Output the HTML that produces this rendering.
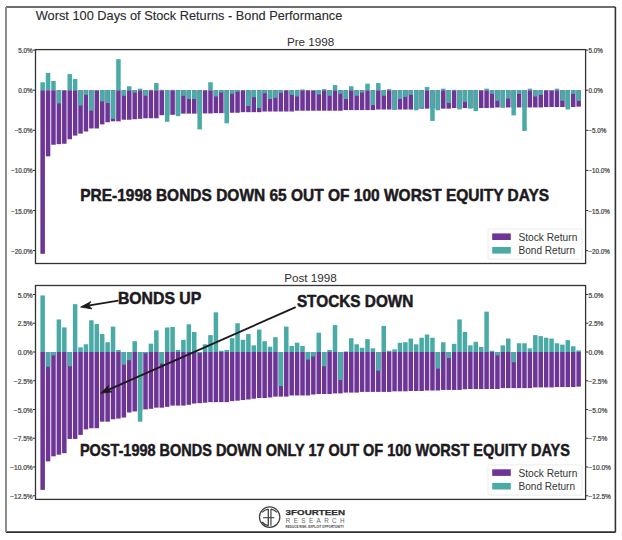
<!DOCTYPE html>
<html><head><meta charset="utf-8"><style>
html,body{margin:0;padding:0;background:#fff;}
body{width:622px;height:540px;overflow:hidden;}
svg{display:block;}
text{font-family:"Liberation Sans", sans-serif;}
.title{font-size:12.6px;fill:#2b2b2b;stroke:#2b2b2b;stroke-width:0.12px;}
.sub{font-size:11.7px;fill:#2e2e2e;}
.tk{fill:#3c3c3c;stroke:#4a4a4a;stroke-width:0.22px;}
.lg{font-size:10.1px;fill:#333;}
.ann{font-size:16.4px;font-weight:bold;fill:#1c1a1e;stroke:#1c1a1e;stroke-width:0.5px;}
.logo1{font-size:7.9px;font-weight:bold;fill:#2e2e2e;stroke:#2e2e2e;stroke-width:0.25px;}
.logo2{font-size:6.3px;fill:#666;}
.logo3{font-size:3px;font-weight:bold;fill:#444;}
</style></head><body>
<svg width="622" height="540" viewBox="0 0 622 540">
<rect x="0" y="0" width="622" height="540" fill="#fff"/>
<!-- frame -->
<line x1="6" y1="7" x2="615.4" y2="7" stroke="#3c3c3c" stroke-width="1.7"/>
<line x1="615.4" y1="7" x2="615.4" y2="532.2" stroke="#333" stroke-width="1.6"/>
<line x1="6" y1="532.2" x2="615.4" y2="532.2" stroke="#2e2e2e" stroke-width="1.7"/>
<line x1="6" y1="7" x2="6" y2="532.2" stroke="#888" stroke-width="1.9"/>
<text x="35.8" y="20.4" class="title" textLength="306.5" lengthAdjust="spacingAndGlyphs">Worst 100 Days of Stock Returns - Bond Performance</text>
<text x="310.6" y="46" text-anchor="middle" class="sub">Pre 1998</text>
<text x="310.5" y="281.9" text-anchor="middle" class="sub">Post 1998</text>
<!-- top axes -->
<rect x="40.40" y="90.20" width="4.5" height="163.61" fill="#6d3596"/>
<rect x="45.81" y="90.20" width="4.5" height="66.16" fill="#6d3596"/>
<rect x="51.23" y="90.20" width="4.5" height="54.54" fill="#6d3596"/>
<rect x="56.64" y="90.20" width="4.5" height="53.97" fill="#6d3596"/>
<rect x="62.06" y="90.20" width="4.5" height="53.57" fill="#6d3596"/>
<rect x="67.47" y="90.20" width="4.5" height="49.08" fill="#6d3596"/>
<rect x="72.88" y="90.20" width="4.5" height="45.39" fill="#6d3596"/>
<rect x="78.30" y="90.20" width="4.5" height="43.39" fill="#6d3596"/>
<rect x="83.71" y="90.20" width="4.5" height="41.30" fill="#6d3596"/>
<rect x="89.13" y="90.20" width="4.5" height="38.26" fill="#6d3596"/>
<rect x="94.54" y="90.20" width="4.5" height="38.26" fill="#6d3596"/>
<rect x="99.95" y="90.20" width="4.5" height="34.17" fill="#6d3596"/>
<rect x="105.37" y="90.20" width="4.5" height="32.08" fill="#6d3596"/>
<rect x="110.78" y="90.20" width="4.5" height="31.12" fill="#6d3596"/>
<rect x="116.20" y="90.20" width="4.5" height="31.12" fill="#6d3596"/>
<rect x="121.61" y="90.20" width="4.5" height="29.51" fill="#6d3596"/>
<rect x="127.02" y="90.20" width="4.5" height="29.51" fill="#6d3596"/>
<rect x="132.44" y="90.20" width="4.5" height="29.03" fill="#6d3596"/>
<rect x="137.85" y="90.20" width="4.5" height="28.63" fill="#6d3596"/>
<rect x="143.27" y="90.20" width="4.5" height="28.07" fill="#6d3596"/>
<rect x="148.68" y="90.20" width="4.5" height="28.07" fill="#6d3596"/>
<rect x="154.09" y="90.20" width="4.5" height="28.07" fill="#6d3596"/>
<rect x="159.51" y="90.20" width="4.5" height="25.02" fill="#6d3596"/>
<rect x="164.92" y="90.20" width="4.5" height="24.86" fill="#6d3596"/>
<rect x="170.34" y="90.20" width="4.5" height="24.62" fill="#6d3596"/>
<rect x="175.75" y="90.20" width="4.5" height="24.06" fill="#6d3596"/>
<rect x="181.16" y="90.20" width="4.5" height="23.42" fill="#6d3596"/>
<rect x="186.58" y="90.20" width="4.5" height="23.42" fill="#6d3596"/>
<rect x="191.99" y="90.20" width="4.5" height="23.42" fill="#6d3596"/>
<rect x="197.41" y="90.20" width="4.5" height="23.26" fill="#6d3596"/>
<rect x="202.82" y="90.20" width="4.5" height="23.26" fill="#6d3596"/>
<rect x="208.23" y="90.20" width="4.5" height="23.26" fill="#6d3596"/>
<rect x="213.65" y="90.20" width="4.5" height="22.94" fill="#6d3596"/>
<rect x="219.06" y="90.20" width="4.5" height="22.94" fill="#6d3596"/>
<rect x="224.48" y="90.20" width="4.5" height="22.70" fill="#6d3596"/>
<rect x="229.89" y="90.20" width="4.5" height="22.54" fill="#6d3596"/>
<rect x="235.30" y="90.20" width="4.5" height="22.54" fill="#6d3596"/>
<rect x="240.72" y="90.20" width="4.5" height="21.97" fill="#6d3596"/>
<rect x="246.13" y="90.20" width="4.5" height="21.97" fill="#6d3596"/>
<rect x="251.55" y="90.20" width="4.5" height="21.97" fill="#6d3596"/>
<rect x="256.96" y="90.20" width="4.5" height="21.97" fill="#6d3596"/>
<rect x="262.37" y="90.20" width="4.5" height="21.33" fill="#6d3596"/>
<rect x="267.79" y="90.20" width="4.5" height="21.33" fill="#6d3596"/>
<rect x="273.20" y="90.20" width="4.5" height="21.33" fill="#6d3596"/>
<rect x="278.62" y="90.20" width="4.5" height="21.33" fill="#6d3596"/>
<rect x="284.03" y="90.20" width="4.5" height="21.33" fill="#6d3596"/>
<rect x="289.44" y="90.20" width="4.5" height="21.33" fill="#6d3596"/>
<rect x="294.86" y="90.20" width="4.5" height="20.53" fill="#6d3596"/>
<rect x="300.27" y="90.20" width="4.5" height="20.53" fill="#6d3596"/>
<rect x="305.69" y="90.20" width="4.5" height="20.53" fill="#6d3596"/>
<rect x="311.10" y="90.20" width="4.5" height="20.53" fill="#6d3596"/>
<rect x="316.51" y="90.20" width="4.5" height="20.53" fill="#6d3596"/>
<rect x="321.93" y="90.20" width="4.5" height="20.53" fill="#6d3596"/>
<rect x="327.34" y="90.20" width="4.5" height="20.53" fill="#6d3596"/>
<rect x="332.76" y="90.20" width="4.5" height="20.53" fill="#6d3596"/>
<rect x="338.17" y="90.20" width="4.5" height="20.53" fill="#6d3596"/>
<rect x="343.58" y="90.20" width="4.5" height="19.89" fill="#6d3596"/>
<rect x="349.00" y="90.20" width="4.5" height="19.89" fill="#6d3596"/>
<rect x="354.41" y="90.20" width="4.5" height="19.89" fill="#6d3596"/>
<rect x="359.83" y="90.20" width="4.5" height="19.89" fill="#6d3596"/>
<rect x="365.24" y="90.20" width="4.5" height="19.89" fill="#6d3596"/>
<rect x="370.65" y="90.20" width="4.5" height="19.89" fill="#6d3596"/>
<rect x="376.07" y="90.20" width="4.5" height="19.33" fill="#6d3596"/>
<rect x="381.48" y="90.20" width="4.5" height="19.33" fill="#6d3596"/>
<rect x="386.90" y="90.20" width="4.5" height="19.33" fill="#6d3596"/>
<rect x="392.31" y="90.20" width="4.5" height="19.33" fill="#6d3596"/>
<rect x="397.72" y="90.20" width="4.5" height="19.33" fill="#6d3596"/>
<rect x="403.14" y="90.20" width="4.5" height="19.33" fill="#6d3596"/>
<rect x="408.55" y="90.20" width="4.5" height="19.33" fill="#6d3596"/>
<rect x="413.97" y="90.20" width="4.5" height="18.93" fill="#6d3596"/>
<rect x="419.38" y="90.20" width="4.5" height="18.45" fill="#6d3596"/>
<rect x="424.79" y="90.20" width="4.5" height="18.45" fill="#6d3596"/>
<rect x="430.21" y="90.20" width="4.5" height="18.45" fill="#6d3596"/>
<rect x="435.62" y="90.20" width="4.5" height="18.45" fill="#6d3596"/>
<rect x="441.04" y="90.20" width="4.5" height="18.45" fill="#6d3596"/>
<rect x="446.45" y="90.20" width="4.5" height="18.45" fill="#6d3596"/>
<rect x="451.86" y="90.20" width="4.5" height="17.88" fill="#6d3596"/>
<rect x="457.28" y="90.20" width="4.5" height="17.88" fill="#6d3596"/>
<rect x="462.69" y="90.20" width="4.5" height="17.88" fill="#6d3596"/>
<rect x="468.11" y="90.20" width="4.5" height="17.88" fill="#6d3596"/>
<rect x="473.52" y="90.20" width="4.5" height="17.80" fill="#6d3596"/>
<rect x="478.93" y="90.20" width="4.5" height="17.80" fill="#6d3596"/>
<rect x="484.35" y="90.20" width="4.5" height="17.80" fill="#6d3596"/>
<rect x="489.76" y="90.20" width="4.5" height="17.64" fill="#6d3596"/>
<rect x="495.18" y="90.20" width="4.5" height="17.24" fill="#6d3596"/>
<rect x="500.59" y="90.20" width="4.5" height="17.24" fill="#6d3596"/>
<rect x="506.00" y="90.20" width="4.5" height="17.24" fill="#6d3596"/>
<rect x="511.42" y="90.20" width="4.5" height="17.24" fill="#6d3596"/>
<rect x="516.83" y="90.20" width="4.5" height="17.24" fill="#6d3596"/>
<rect x="522.25" y="90.20" width="4.5" height="17.24" fill="#6d3596"/>
<rect x="527.66" y="90.20" width="4.5" height="17.24" fill="#6d3596"/>
<rect x="533.07" y="90.20" width="4.5" height="17.24" fill="#6d3596"/>
<rect x="538.49" y="90.20" width="4.5" height="17.24" fill="#6d3596"/>
<rect x="543.90" y="90.20" width="4.5" height="16.84" fill="#6d3596"/>
<rect x="549.32" y="90.20" width="4.5" height="16.84" fill="#6d3596"/>
<rect x="554.73" y="90.20" width="4.5" height="16.84" fill="#6d3596"/>
<rect x="560.14" y="90.20" width="4.5" height="16.84" fill="#6d3596"/>
<rect x="565.56" y="90.20" width="4.5" height="16.84" fill="#6d3596"/>
<rect x="570.97" y="90.20" width="4.5" height="16.84" fill="#6d3596"/>
<rect x="576.39" y="90.20" width="4.5" height="16.44" fill="#6d3596"/>
<rect x="40.40" y="82.26" width="4.5" height="7.94" fill="#4aaaa6"/>
<rect x="45.81" y="73.04" width="4.5" height="17.16" fill="#4aaaa6"/>
<rect x="51.23" y="80.98" width="4.5" height="9.22" fill="#4aaaa6"/>
<rect x="56.64" y="90.20" width="4.5" height="13.23" fill="#4aaaa6"/>
<rect x="62.06" y="90.20" width="4.5" height="0.40" fill="#4aaaa6"/>
<rect x="67.47" y="74.08" width="4.5" height="16.12" fill="#4aaaa6"/>
<rect x="72.88" y="78.97" width="4.5" height="11.23" fill="#4aaaa6"/>
<rect x="78.30" y="90.20" width="4.5" height="15.24" fill="#4aaaa6"/>
<rect x="83.71" y="90.20" width="4.5" height="4.65" fill="#4aaaa6"/>
<rect x="89.13" y="90.20" width="4.5" height="20.45" fill="#4aaaa6"/>
<rect x="94.54" y="90.20" width="4.5" height="0.40" fill="#4aaaa6"/>
<rect x="99.95" y="90.20" width="4.5" height="11.15" fill="#4aaaa6"/>
<rect x="105.37" y="90.20" width="4.5" height="12.83" fill="#4aaaa6"/>
<rect x="110.78" y="90.20" width="4.5" height="28.63" fill="#4aaaa6"/>
<rect x="116.20" y="59.16" width="4.5" height="31.04" fill="#4aaaa6"/>
<rect x="121.61" y="90.20" width="4.5" height="5.61" fill="#4aaaa6"/>
<rect x="127.02" y="86.27" width="4.5" height="3.93" fill="#4aaaa6"/>
<rect x="132.44" y="90.20" width="4.5" height="2.41" fill="#4aaaa6"/>
<rect x="137.85" y="88.68" width="4.5" height="1.52" fill="#4aaaa6"/>
<rect x="143.27" y="90.20" width="4.5" height="5.61" fill="#4aaaa6"/>
<rect x="148.68" y="89.80" width="4.5" height="0.40" fill="#4aaaa6"/>
<rect x="154.09" y="83.06" width="4.5" height="7.14" fill="#4aaaa6"/>
<rect x="159.51" y="89.80" width="4.5" height="0.40" fill="#4aaaa6"/>
<rect x="164.92" y="90.20" width="4.5" height="31.60" fill="#4aaaa6"/>
<rect x="170.34" y="89.80" width="4.5" height="0.40" fill="#4aaaa6"/>
<rect x="175.75" y="90.20" width="4.5" height="25.98" fill="#4aaaa6"/>
<rect x="181.16" y="90.20" width="4.5" height="5.61" fill="#4aaaa6"/>
<rect x="186.58" y="90.20" width="4.5" height="8.74" fill="#4aaaa6"/>
<rect x="191.99" y="90.20" width="4.5" height="8.74" fill="#4aaaa6"/>
<rect x="197.41" y="90.20" width="4.5" height="39.22" fill="#4aaaa6"/>
<rect x="202.82" y="90.04" width="4.5" height="0.16" fill="#4aaaa6"/>
<rect x="208.23" y="82.26" width="4.5" height="7.94" fill="#4aaaa6"/>
<rect x="213.65" y="90.20" width="4.5" height="6.26" fill="#4aaaa6"/>
<rect x="219.06" y="90.20" width="4.5" height="2.41" fill="#4aaaa6"/>
<rect x="224.48" y="90.20" width="4.5" height="33.12" fill="#4aaaa6"/>
<rect x="229.89" y="90.20" width="4.5" height="3.61" fill="#4aaaa6"/>
<rect x="235.30" y="90.20" width="4.5" height="1.60" fill="#4aaaa6"/>
<rect x="240.72" y="89.96" width="4.5" height="0.24" fill="#4aaaa6"/>
<rect x="246.13" y="90.20" width="4.5" height="15.80" fill="#4aaaa6"/>
<rect x="251.55" y="90.20" width="4.5" height="7.06" fill="#4aaaa6"/>
<rect x="256.96" y="90.20" width="4.5" height="17.88" fill="#4aaaa6"/>
<rect x="262.37" y="90.20" width="4.5" height="3.05" fill="#4aaaa6"/>
<rect x="267.79" y="90.20" width="4.5" height="8.74" fill="#4aaaa6"/>
<rect x="273.20" y="90.20" width="4.5" height="7.70" fill="#4aaaa6"/>
<rect x="278.62" y="90.20" width="4.5" height="2.57" fill="#4aaaa6"/>
<rect x="284.03" y="90.04" width="4.5" height="0.16" fill="#4aaaa6"/>
<rect x="289.44" y="90.20" width="4.5" height="4.65" fill="#4aaaa6"/>
<rect x="294.86" y="90.20" width="4.5" height="6.26" fill="#4aaaa6"/>
<rect x="300.27" y="89.40" width="4.5" height="0.80" fill="#4aaaa6"/>
<rect x="305.69" y="90.04" width="4.5" height="0.16" fill="#4aaaa6"/>
<rect x="311.10" y="90.20" width="4.5" height="0.80" fill="#4aaaa6"/>
<rect x="316.51" y="90.20" width="4.5" height="4.25" fill="#4aaaa6"/>
<rect x="321.93" y="89.08" width="4.5" height="1.12" fill="#4aaaa6"/>
<rect x="327.34" y="90.20" width="4.5" height="5.61" fill="#4aaaa6"/>
<rect x="332.76" y="85.07" width="4.5" height="5.13" fill="#4aaaa6"/>
<rect x="338.17" y="90.20" width="4.5" height="3.61" fill="#4aaaa6"/>
<rect x="343.58" y="90.20" width="4.5" height="8.74" fill="#4aaaa6"/>
<rect x="349.00" y="86.27" width="4.5" height="3.93" fill="#4aaaa6"/>
<rect x="354.41" y="90.20" width="4.5" height="5.61" fill="#4aaaa6"/>
<rect x="359.83" y="90.20" width="4.5" height="2.41" fill="#4aaaa6"/>
<rect x="365.24" y="83.62" width="4.5" height="6.58" fill="#4aaaa6"/>
<rect x="370.65" y="90.20" width="4.5" height="14.84" fill="#4aaaa6"/>
<rect x="376.07" y="83.06" width="4.5" height="7.14" fill="#4aaaa6"/>
<rect x="381.48" y="90.20" width="4.5" height="5.61" fill="#4aaaa6"/>
<rect x="386.90" y="89.08" width="4.5" height="1.12" fill="#4aaaa6"/>
<rect x="392.31" y="90.20" width="4.5" height="19.65" fill="#4aaaa6"/>
<rect x="397.72" y="90.20" width="4.5" height="8.74" fill="#4aaaa6"/>
<rect x="403.14" y="90.20" width="4.5" height="6.66" fill="#4aaaa6"/>
<rect x="408.55" y="90.20" width="4.5" height="4.65" fill="#4aaaa6"/>
<rect x="413.97" y="90.20" width="4.5" height="20.05" fill="#4aaaa6"/>
<rect x="419.38" y="90.20" width="4.5" height="17.64" fill="#4aaaa6"/>
<rect x="424.79" y="87.07" width="4.5" height="3.13" fill="#4aaaa6"/>
<rect x="430.21" y="90.20" width="4.5" height="30.72" fill="#4aaaa6"/>
<rect x="435.62" y="90.20" width="4.5" height="20.05" fill="#4aaaa6"/>
<rect x="441.04" y="88.68" width="4.5" height="1.52" fill="#4aaaa6"/>
<rect x="446.45" y="90.20" width="4.5" height="12.83" fill="#4aaaa6"/>
<rect x="451.86" y="89.80" width="4.5" height="0.40" fill="#4aaaa6"/>
<rect x="457.28" y="90.20" width="4.5" height="19.25" fill="#4aaaa6"/>
<rect x="462.69" y="90.20" width="4.5" height="11.63" fill="#4aaaa6"/>
<rect x="468.11" y="90.20" width="4.5" height="18.45" fill="#4aaaa6"/>
<rect x="473.52" y="90.20" width="4.5" height="20.93" fill="#4aaaa6"/>
<rect x="478.93" y="90.04" width="4.5" height="0.16" fill="#4aaaa6"/>
<rect x="484.35" y="88.68" width="4.5" height="1.52" fill="#4aaaa6"/>
<rect x="489.76" y="90.20" width="4.5" height="3.61" fill="#4aaaa6"/>
<rect x="495.18" y="90.20" width="4.5" height="10.67" fill="#4aaaa6"/>
<rect x="500.59" y="90.20" width="4.5" height="17.40" fill="#4aaaa6"/>
<rect x="506.00" y="90.20" width="4.5" height="8.34" fill="#4aaaa6"/>
<rect x="511.42" y="90.20" width="4.5" height="25.18" fill="#4aaaa6"/>
<rect x="516.83" y="90.20" width="4.5" height="3.61" fill="#4aaaa6"/>
<rect x="522.25" y="90.20" width="4.5" height="40.74" fill="#4aaaa6"/>
<rect x="527.66" y="88.68" width="4.5" height="1.52" fill="#4aaaa6"/>
<rect x="533.07" y="90.20" width="4.5" height="6.26" fill="#4aaaa6"/>
<rect x="538.49" y="90.20" width="4.5" height="4.65" fill="#4aaaa6"/>
<rect x="543.90" y="90.04" width="4.5" height="0.16" fill="#4aaaa6"/>
<rect x="549.32" y="90.20" width="4.5" height="0.80" fill="#4aaaa6"/>
<rect x="554.73" y="88.68" width="4.5" height="1.52" fill="#4aaaa6"/>
<rect x="560.14" y="90.20" width="4.5" height="10.67" fill="#4aaaa6"/>
<rect x="565.56" y="90.20" width="4.5" height="19.25" fill="#4aaaa6"/>
<rect x="570.97" y="90.20" width="4.5" height="3.61" fill="#4aaaa6"/>
<rect x="576.39" y="90.20" width="4.5" height="10.67" fill="#4aaaa6"/>
<line x1="32.9" y1="50.10" x2="35.5" y2="50.10" stroke="#333" stroke-width="1"/>
<line x1="585.6" y1="50.10" x2="588.2" y2="50.10" stroke="#333" stroke-width="1"/>
<text x="32.70" y="53.10" text-anchor="end" class="tk" font-size="6.3">5.0%</text>
<text x="588.40" y="53.10" class="tk" font-size="6.3">5.0%</text>
<line x1="32.9" y1="90.20" x2="35.5" y2="90.20" stroke="#333" stroke-width="1"/>
<line x1="585.6" y1="90.20" x2="588.2" y2="90.20" stroke="#333" stroke-width="1"/>
<text x="32.70" y="93.20" text-anchor="end" class="tk" font-size="6.3">0.0%</text>
<text x="588.40" y="93.20" class="tk" font-size="6.3">0.0%</text>
<line x1="32.9" y1="130.30" x2="35.5" y2="130.30" stroke="#333" stroke-width="1"/>
<line x1="585.6" y1="130.30" x2="588.2" y2="130.30" stroke="#333" stroke-width="1"/>
<text x="32.70" y="133.30" text-anchor="end" class="tk" font-size="6.3">−5.0%</text>
<text x="588.40" y="133.30" class="tk" font-size="6.3">−5.0%</text>
<line x1="32.9" y1="170.40" x2="35.5" y2="170.40" stroke="#333" stroke-width="1"/>
<line x1="585.6" y1="170.40" x2="588.2" y2="170.40" stroke="#333" stroke-width="1"/>
<text x="32.70" y="173.40" text-anchor="end" class="tk" font-size="6.3">−10.0%</text>
<text x="588.40" y="173.40" class="tk" font-size="6.3">−10.0%</text>
<line x1="32.9" y1="210.50" x2="35.5" y2="210.50" stroke="#333" stroke-width="1"/>
<line x1="585.6" y1="210.50" x2="588.2" y2="210.50" stroke="#333" stroke-width="1"/>
<text x="32.70" y="213.50" text-anchor="end" class="tk" font-size="6.3">−15.0%</text>
<text x="588.40" y="213.50" class="tk" font-size="6.3">−15.0%</text>
<line x1="32.9" y1="250.60" x2="35.5" y2="250.60" stroke="#333" stroke-width="1"/>
<line x1="585.6" y1="250.60" x2="588.2" y2="250.60" stroke="#333" stroke-width="1"/>
<text x="32.70" y="253.60" text-anchor="end" class="tk" font-size="6.3">−20.0%</text>
<text x="588.40" y="253.60" class="tk" font-size="6.3">−20.0%</text>
<rect x="35.5" y="49.6" width="550.1" height="213.9" fill="none" stroke="#333" stroke-width="1.3"/>
<rect x="488" y="229.0" width="94" height="30.2" fill="#fff" stroke="#e6e6e6" stroke-width="0.8" rx="1.5"/>
<rect x="492.2" y="233.4" width="18.6" height="6.6" fill="#6d3596"/>
<rect x="492.2" y="247.0" width="18.6" height="6.6" fill="#4aaaa6"/>
<text x="518.5" y="240.9" class="lg" textLength="58.8" lengthAdjust="spacingAndGlyphs">Stock Return</text>
<text x="518.5" y="254.3" class="lg" textLength="56.5" lengthAdjust="spacingAndGlyphs">Bond Return</text>
<!-- bottom axes -->
<rect x="40.40" y="352.00" width="4.5" height="137.88" fill="#6d3596"/>
<rect x="45.81" y="352.00" width="4.5" height="109.36" fill="#6d3596"/>
<rect x="51.23" y="352.00" width="4.5" height="104.31" fill="#6d3596"/>
<rect x="56.64" y="352.00" width="4.5" height="102.69" fill="#6d3596"/>
<rect x="62.06" y="352.00" width="4.5" height="101.20" fill="#6d3596"/>
<rect x="67.47" y="352.00" width="4.5" height="86.94" fill="#6d3596"/>
<rect x="72.88" y="352.00" width="4.5" height="86.94" fill="#6d3596"/>
<rect x="78.30" y="352.00" width="4.5" height="82.92" fill="#6d3596"/>
<rect x="83.71" y="352.00" width="4.5" height="77.40" fill="#6d3596"/>
<rect x="89.13" y="352.00" width="4.5" height="76.25" fill="#6d3596"/>
<rect x="94.54" y="352.00" width="4.5" height="76.25" fill="#6d3596"/>
<rect x="99.95" y="352.00" width="4.5" height="69.69" fill="#6d3596"/>
<rect x="105.37" y="352.00" width="4.5" height="69.69" fill="#6d3596"/>
<rect x="110.78" y="352.00" width="4.5" height="67.27" fill="#6d3596"/>
<rect x="116.20" y="352.00" width="4.5" height="66.58" fill="#6d3596"/>
<rect x="121.61" y="352.00" width="4.5" height="65.55" fill="#6d3596"/>
<rect x="127.02" y="352.00" width="4.5" height="60.49" fill="#6d3596"/>
<rect x="132.44" y="352.00" width="4.5" height="59.45" fill="#6d3596"/>
<rect x="137.85" y="352.00" width="4.5" height="58.65" fill="#6d3596"/>
<rect x="143.27" y="352.00" width="4.5" height="57.39" fill="#6d3596"/>
<rect x="148.68" y="352.00" width="4.5" height="56.81" fill="#6d3596"/>
<rect x="154.09" y="352.00" width="4.5" height="55.66" fill="#6d3596"/>
<rect x="159.51" y="352.00" width="4.5" height="55.66" fill="#6d3596"/>
<rect x="164.92" y="352.00" width="4.5" height="54.85" fill="#6d3596"/>
<rect x="170.34" y="352.00" width="4.5" height="53.59" fill="#6d3596"/>
<rect x="175.75" y="352.00" width="4.5" height="53.59" fill="#6d3596"/>
<rect x="181.16" y="352.00" width="4.5" height="53.59" fill="#6d3596"/>
<rect x="186.58" y="352.00" width="4.5" height="52.78" fill="#6d3596"/>
<rect x="191.99" y="352.00" width="4.5" height="51.52" fill="#6d3596"/>
<rect x="197.41" y="352.00" width="4.5" height="51.18" fill="#6d3596"/>
<rect x="202.82" y="352.00" width="4.5" height="50.72" fill="#6d3596"/>
<rect x="208.23" y="352.00" width="4.5" height="50.14" fill="#6d3596"/>
<rect x="213.65" y="352.00" width="4.5" height="50.14" fill="#6d3596"/>
<rect x="219.06" y="352.00" width="4.5" height="50.14" fill="#6d3596"/>
<rect x="224.48" y="352.00" width="4.5" height="50.14" fill="#6d3596"/>
<rect x="229.89" y="352.00" width="4.5" height="49.10" fill="#6d3596"/>
<rect x="235.30" y="352.00" width="4.5" height="48.65" fill="#6d3596"/>
<rect x="240.72" y="352.00" width="4.5" height="48.07" fill="#6d3596"/>
<rect x="246.13" y="352.00" width="4.5" height="47.49" fill="#6d3596"/>
<rect x="251.55" y="352.00" width="4.5" height="46.69" fill="#6d3596"/>
<rect x="256.96" y="352.00" width="4.5" height="46.00" fill="#6d3596"/>
<rect x="262.37" y="352.00" width="4.5" height="46.00" fill="#6d3596"/>
<rect x="267.79" y="352.00" width="4.5" height="45.43" fill="#6d3596"/>
<rect x="273.20" y="352.00" width="4.5" height="44.62" fill="#6d3596"/>
<rect x="278.62" y="352.00" width="4.5" height="44.62" fill="#6d3596"/>
<rect x="284.03" y="352.00" width="4.5" height="44.62" fill="#6d3596"/>
<rect x="289.44" y="352.00" width="4.5" height="43.47" fill="#6d3596"/>
<rect x="294.86" y="352.00" width="4.5" height="43.47" fill="#6d3596"/>
<rect x="300.27" y="352.00" width="4.5" height="43.47" fill="#6d3596"/>
<rect x="305.69" y="352.00" width="4.5" height="43.47" fill="#6d3596"/>
<rect x="311.10" y="352.00" width="4.5" height="42.55" fill="#6d3596"/>
<rect x="316.51" y="352.00" width="4.5" height="41.98" fill="#6d3596"/>
<rect x="321.93" y="352.00" width="4.5" height="41.98" fill="#6d3596"/>
<rect x="327.34" y="352.00" width="4.5" height="41.98" fill="#6d3596"/>
<rect x="332.76" y="352.00" width="4.5" height="41.40" fill="#6d3596"/>
<rect x="338.17" y="352.00" width="4.5" height="41.40" fill="#6d3596"/>
<rect x="343.58" y="352.00" width="4.5" height="40.59" fill="#6d3596"/>
<rect x="349.00" y="352.00" width="4.5" height="40.59" fill="#6d3596"/>
<rect x="354.41" y="352.00" width="4.5" height="40.59" fill="#6d3596"/>
<rect x="359.83" y="352.00" width="4.5" height="39.91" fill="#6d3596"/>
<rect x="365.24" y="352.00" width="4.5" height="39.91" fill="#6d3596"/>
<rect x="370.65" y="352.00" width="4.5" height="39.91" fill="#6d3596"/>
<rect x="376.07" y="352.00" width="4.5" height="39.91" fill="#6d3596"/>
<rect x="381.48" y="352.00" width="4.5" height="39.91" fill="#6d3596"/>
<rect x="386.90" y="352.00" width="4.5" height="39.91" fill="#6d3596"/>
<rect x="392.31" y="352.00" width="4.5" height="39.33" fill="#6d3596"/>
<rect x="397.72" y="352.00" width="4.5" height="39.33" fill="#6d3596"/>
<rect x="403.14" y="352.00" width="4.5" height="39.33" fill="#6d3596"/>
<rect x="408.55" y="352.00" width="4.5" height="38.98" fill="#6d3596"/>
<rect x="413.97" y="352.00" width="4.5" height="38.98" fill="#6d3596"/>
<rect x="419.38" y="352.00" width="4.5" height="38.98" fill="#6d3596"/>
<rect x="424.79" y="352.00" width="4.5" height="38.52" fill="#6d3596"/>
<rect x="430.21" y="352.00" width="4.5" height="38.52" fill="#6d3596"/>
<rect x="435.62" y="352.00" width="4.5" height="38.52" fill="#6d3596"/>
<rect x="441.04" y="352.00" width="4.5" height="37.95" fill="#6d3596"/>
<rect x="446.45" y="352.00" width="4.5" height="37.95" fill="#6d3596"/>
<rect x="451.86" y="352.00" width="4.5" height="37.95" fill="#6d3596"/>
<rect x="457.28" y="352.00" width="4.5" height="37.95" fill="#6d3596"/>
<rect x="462.69" y="352.00" width="4.5" height="37.26" fill="#6d3596"/>
<rect x="468.11" y="352.00" width="4.5" height="37.03" fill="#6d3596"/>
<rect x="473.52" y="352.00" width="4.5" height="37.03" fill="#6d3596"/>
<rect x="478.93" y="352.00" width="4.5" height="37.03" fill="#6d3596"/>
<rect x="484.35" y="352.00" width="4.5" height="37.03" fill="#6d3596"/>
<rect x="489.76" y="352.00" width="4.5" height="37.03" fill="#6d3596"/>
<rect x="495.18" y="352.00" width="4.5" height="37.03" fill="#6d3596"/>
<rect x="500.59" y="352.00" width="4.5" height="36.11" fill="#6d3596"/>
<rect x="506.00" y="352.00" width="4.5" height="36.11" fill="#6d3596"/>
<rect x="511.42" y="352.00" width="4.5" height="36.11" fill="#6d3596"/>
<rect x="516.83" y="352.00" width="4.5" height="36.11" fill="#6d3596"/>
<rect x="522.25" y="352.00" width="4.5" height="36.11" fill="#6d3596"/>
<rect x="527.66" y="352.00" width="4.5" height="36.11" fill="#6d3596"/>
<rect x="533.07" y="352.00" width="4.5" height="35.42" fill="#6d3596"/>
<rect x="538.49" y="352.00" width="4.5" height="35.42" fill="#6d3596"/>
<rect x="543.90" y="352.00" width="4.5" height="35.42" fill="#6d3596"/>
<rect x="549.32" y="352.00" width="4.5" height="35.42" fill="#6d3596"/>
<rect x="554.73" y="352.00" width="4.5" height="35.07" fill="#6d3596"/>
<rect x="560.14" y="352.00" width="4.5" height="35.07" fill="#6d3596"/>
<rect x="565.56" y="352.00" width="4.5" height="35.07" fill="#6d3596"/>
<rect x="570.97" y="352.00" width="4.5" height="35.07" fill="#6d3596"/>
<rect x="576.39" y="352.00" width="4.5" height="34.61" fill="#6d3596"/>
<rect x="40.40" y="295.42" width="4.5" height="56.58" fill="#4aaaa6"/>
<rect x="45.81" y="352.00" width="4.5" height="14.72" fill="#4aaaa6"/>
<rect x="51.23" y="352.00" width="4.5" height="3.45" fill="#4aaaa6"/>
<rect x="56.64" y="319.45" width="4.5" height="32.55" fill="#4aaaa6"/>
<rect x="62.06" y="327.39" width="4.5" height="24.61" fill="#4aaaa6"/>
<rect x="67.47" y="352.00" width="4.5" height="14.26" fill="#4aaaa6"/>
<rect x="72.88" y="304.16" width="4.5" height="47.84" fill="#4aaaa6"/>
<rect x="78.30" y="347.29" width="4.5" height="4.71" fill="#4aaaa6"/>
<rect x="83.71" y="344.30" width="4.5" height="7.71" fill="#4aaaa6"/>
<rect x="89.13" y="320.26" width="4.5" height="31.74" fill="#4aaaa6"/>
<rect x="94.54" y="324.06" width="4.5" height="27.95" fill="#4aaaa6"/>
<rect x="99.95" y="334.06" width="4.5" height="17.94" fill="#4aaaa6"/>
<rect x="105.37" y="342.23" width="4.5" height="9.78" fill="#4aaaa6"/>
<rect x="110.78" y="326.58" width="4.5" height="25.41" fill="#4aaaa6"/>
<rect x="116.20" y="349.93" width="4.5" height="2.07" fill="#4aaaa6"/>
<rect x="121.61" y="352.00" width="4.5" height="12.65" fill="#4aaaa6"/>
<rect x="127.02" y="352.00" width="4.5" height="8.16" fill="#4aaaa6"/>
<rect x="132.44" y="341.19" width="4.5" height="10.81" fill="#4aaaa6"/>
<rect x="137.85" y="352.00" width="4.5" height="69.69" fill="#4aaaa6"/>
<rect x="143.27" y="352.00" width="4.5" height="1.38" fill="#4aaaa6"/>
<rect x="148.68" y="343.61" width="4.5" height="8.39" fill="#4aaaa6"/>
<rect x="154.09" y="330.38" width="4.5" height="21.62" fill="#4aaaa6"/>
<rect x="159.51" y="352.00" width="4.5" height="11.62" fill="#4aaaa6"/>
<rect x="164.92" y="327.50" width="4.5" height="24.49" fill="#4aaaa6"/>
<rect x="170.34" y="326.93" width="4.5" height="25.07" fill="#4aaaa6"/>
<rect x="175.75" y="349.93" width="4.5" height="2.07" fill="#4aaaa6"/>
<rect x="181.16" y="339.81" width="4.5" height="12.19" fill="#4aaaa6"/>
<rect x="186.58" y="324.28" width="4.5" height="27.72" fill="#4aaaa6"/>
<rect x="191.99" y="331.99" width="4.5" height="20.01" fill="#4aaaa6"/>
<rect x="197.41" y="352.00" width="4.5" height="1.15" fill="#4aaaa6"/>
<rect x="202.82" y="344.30" width="4.5" height="7.71" fill="#4aaaa6"/>
<rect x="208.23" y="335.10" width="4.5" height="16.91" fill="#4aaaa6"/>
<rect x="213.65" y="312.32" width="4.5" height="39.68" fill="#4aaaa6"/>
<rect x="219.06" y="350.74" width="4.5" height="1.26" fill="#4aaaa6"/>
<rect x="224.48" y="349.93" width="4.5" height="2.07" fill="#4aaaa6"/>
<rect x="229.89" y="338.20" width="4.5" height="13.80" fill="#4aaaa6"/>
<rect x="235.30" y="323.25" width="4.5" height="28.75" fill="#4aaaa6"/>
<rect x="240.72" y="339.81" width="4.5" height="12.19" fill="#4aaaa6"/>
<rect x="246.13" y="334.06" width="4.5" height="17.94" fill="#4aaaa6"/>
<rect x="251.55" y="345.33" width="4.5" height="6.67" fill="#4aaaa6"/>
<rect x="256.96" y="329.57" width="4.5" height="22.43" fill="#4aaaa6"/>
<rect x="262.37" y="341.19" width="4.5" height="10.81" fill="#4aaaa6"/>
<rect x="267.79" y="346.71" width="4.5" height="5.29" fill="#4aaaa6"/>
<rect x="273.20" y="337.17" width="4.5" height="14.84" fill="#4aaaa6"/>
<rect x="278.62" y="352.00" width="4.5" height="34.04" fill="#4aaaa6"/>
<rect x="284.03" y="326.58" width="4.5" height="25.41" fill="#4aaaa6"/>
<rect x="289.44" y="345.90" width="4.5" height="6.10" fill="#4aaaa6"/>
<rect x="294.86" y="342.69" width="4.5" height="9.32" fill="#4aaaa6"/>
<rect x="300.27" y="345.90" width="4.5" height="6.10" fill="#4aaaa6"/>
<rect x="305.69" y="352.00" width="4.5" height="7.59" fill="#4aaaa6"/>
<rect x="311.10" y="352.00" width="4.5" height="4.49" fill="#4aaaa6"/>
<rect x="316.51" y="332.68" width="4.5" height="19.32" fill="#4aaaa6"/>
<rect x="321.93" y="352.00" width="4.5" height="14.26" fill="#4aaaa6"/>
<rect x="327.34" y="349.93" width="4.5" height="2.07" fill="#4aaaa6"/>
<rect x="332.76" y="325.09" width="4.5" height="26.91" fill="#4aaaa6"/>
<rect x="338.17" y="352.00" width="4.5" height="27.95" fill="#4aaaa6"/>
<rect x="343.58" y="351.43" width="4.5" height="0.58" fill="#4aaaa6"/>
<rect x="349.00" y="338.20" width="4.5" height="13.80" fill="#4aaaa6"/>
<rect x="354.41" y="344.30" width="4.5" height="7.71" fill="#4aaaa6"/>
<rect x="359.83" y="347.75" width="4.5" height="4.25" fill="#4aaaa6"/>
<rect x="365.24" y="339.12" width="4.5" height="12.88" fill="#4aaaa6"/>
<rect x="370.65" y="348.32" width="4.5" height="3.68" fill="#4aaaa6"/>
<rect x="376.07" y="352.00" width="4.5" height="18.74" fill="#4aaaa6"/>
<rect x="381.48" y="325.89" width="4.5" height="26.11" fill="#4aaaa6"/>
<rect x="386.90" y="350.74" width="4.5" height="1.26" fill="#4aaaa6"/>
<rect x="392.31" y="349.36" width="4.5" height="2.65" fill="#4aaaa6"/>
<rect x="397.72" y="342.80" width="4.5" height="9.20" fill="#4aaaa6"/>
<rect x="403.14" y="342.23" width="4.5" height="9.78" fill="#4aaaa6"/>
<rect x="408.55" y="338.55" width="4.5" height="13.45" fill="#4aaaa6"/>
<rect x="413.97" y="344.30" width="4.5" height="7.71" fill="#4aaaa6"/>
<rect x="419.38" y="337.74" width="4.5" height="14.26" fill="#4aaaa6"/>
<rect x="424.79" y="334.52" width="4.5" height="17.48" fill="#4aaaa6"/>
<rect x="430.21" y="337.74" width="4.5" height="14.26" fill="#4aaaa6"/>
<rect x="435.62" y="352.00" width="4.5" height="16.68" fill="#4aaaa6"/>
<rect x="441.04" y="342.23" width="4.5" height="9.78" fill="#4aaaa6"/>
<rect x="446.45" y="352.00" width="4.5" height="6.10" fill="#4aaaa6"/>
<rect x="451.86" y="343.83" width="4.5" height="8.16" fill="#4aaaa6"/>
<rect x="457.28" y="319.45" width="4.5" height="32.55" fill="#4aaaa6"/>
<rect x="462.69" y="331.99" width="4.5" height="20.01" fill="#4aaaa6"/>
<rect x="468.11" y="345.33" width="4.5" height="6.67" fill="#4aaaa6"/>
<rect x="473.52" y="341.76" width="4.5" height="10.23" fill="#4aaaa6"/>
<rect x="478.93" y="346.94" width="4.5" height="5.06" fill="#4aaaa6"/>
<rect x="484.35" y="311.63" width="4.5" height="40.36" fill="#4aaaa6"/>
<rect x="489.76" y="350.74" width="4.5" height="1.26" fill="#4aaaa6"/>
<rect x="495.18" y="352.00" width="4.5" height="3.45" fill="#4aaaa6"/>
<rect x="500.59" y="345.33" width="4.5" height="6.67" fill="#4aaaa6"/>
<rect x="506.00" y="338.55" width="4.5" height="13.45" fill="#4aaaa6"/>
<rect x="511.42" y="352.00" width="4.5" height="10.23" fill="#4aaaa6"/>
<rect x="516.83" y="343.26" width="4.5" height="8.74" fill="#4aaaa6"/>
<rect x="522.25" y="343.26" width="4.5" height="8.74" fill="#4aaaa6"/>
<rect x="527.66" y="348.32" width="4.5" height="3.68" fill="#4aaaa6"/>
<rect x="533.07" y="335.10" width="4.5" height="16.91" fill="#4aaaa6"/>
<rect x="538.49" y="336.13" width="4.5" height="15.87" fill="#4aaaa6"/>
<rect x="543.90" y="337.74" width="4.5" height="14.26" fill="#4aaaa6"/>
<rect x="549.32" y="338.55" width="4.5" height="13.45" fill="#4aaaa6"/>
<rect x="554.73" y="343.26" width="4.5" height="8.74" fill="#4aaaa6"/>
<rect x="560.14" y="344.64" width="4.5" height="7.36" fill="#4aaaa6"/>
<rect x="565.56" y="340.15" width="4.5" height="11.85" fill="#4aaaa6"/>
<rect x="570.97" y="346.25" width="4.5" height="5.75" fill="#4aaaa6"/>
<rect x="576.39" y="350.39" width="4.5" height="1.61" fill="#4aaaa6"/>
<line x1="32.9" y1="294.50" x2="35.5" y2="294.50" stroke="#333" stroke-width="1"/>
<line x1="585.6" y1="294.50" x2="588.2" y2="294.50" stroke="#333" stroke-width="1"/>
<text x="32.70" y="297.50" text-anchor="end" class="tk" font-size="6.6">5.0%</text>
<text x="588.40" y="297.50" class="tk" font-size="6.6">5.0%</text>
<line x1="32.9" y1="323.25" x2="35.5" y2="323.25" stroke="#333" stroke-width="1"/>
<line x1="585.6" y1="323.25" x2="588.2" y2="323.25" stroke="#333" stroke-width="1"/>
<text x="32.70" y="326.25" text-anchor="end" class="tk" font-size="6.6">2.5%</text>
<text x="588.40" y="326.25" class="tk" font-size="6.6">2.5%</text>
<line x1="32.9" y1="352.00" x2="35.5" y2="352.00" stroke="#333" stroke-width="1"/>
<line x1="585.6" y1="352.00" x2="588.2" y2="352.00" stroke="#333" stroke-width="1"/>
<text x="32.70" y="355.00" text-anchor="end" class="tk" font-size="6.6">0.0%</text>
<text x="588.40" y="355.00" class="tk" font-size="6.6">0.0%</text>
<line x1="32.9" y1="380.75" x2="35.5" y2="380.75" stroke="#333" stroke-width="1"/>
<line x1="585.6" y1="380.75" x2="588.2" y2="380.75" stroke="#333" stroke-width="1"/>
<text x="32.70" y="383.75" text-anchor="end" class="tk" font-size="6.6">−2.5%</text>
<text x="588.40" y="383.75" class="tk" font-size="6.6">−2.5%</text>
<line x1="32.9" y1="409.50" x2="35.5" y2="409.50" stroke="#333" stroke-width="1"/>
<line x1="585.6" y1="409.50" x2="588.2" y2="409.50" stroke="#333" stroke-width="1"/>
<text x="32.70" y="412.50" text-anchor="end" class="tk" font-size="6.6">−5.0%</text>
<text x="588.40" y="412.50" class="tk" font-size="6.6">−5.0%</text>
<line x1="32.9" y1="438.25" x2="35.5" y2="438.25" stroke="#333" stroke-width="1"/>
<line x1="585.6" y1="438.25" x2="588.2" y2="438.25" stroke="#333" stroke-width="1"/>
<text x="32.70" y="441.25" text-anchor="end" class="tk" font-size="6.6">−7.5%</text>
<text x="588.40" y="441.25" class="tk" font-size="6.6">−7.5%</text>
<line x1="32.9" y1="467.00" x2="35.5" y2="467.00" stroke="#333" stroke-width="1"/>
<line x1="585.6" y1="467.00" x2="588.2" y2="467.00" stroke="#333" stroke-width="1"/>
<text x="32.70" y="470.00" text-anchor="end" class="tk" font-size="6.6">−10.0%</text>
<text x="588.40" y="470.00" class="tk" font-size="6.6">−10.0%</text>
<line x1="32.9" y1="495.75" x2="35.5" y2="495.75" stroke="#333" stroke-width="1"/>
<line x1="585.6" y1="495.75" x2="588.2" y2="495.75" stroke="#333" stroke-width="1"/>
<text x="32.70" y="498.75" text-anchor="end" class="tk" font-size="6.6">−12.5%</text>
<text x="588.40" y="498.75" class="tk" font-size="6.6">−12.5%</text>
<rect x="35.5" y="285.5" width="550.1" height="213.9" fill="none" stroke="#333" stroke-width="1.3"/>
<rect x="488" y="464.9" width="94" height="30.2" fill="#fff" stroke="#e6e6e6" stroke-width="0.8" rx="1.5"/>
<rect x="492.2" y="469.3" width="18.6" height="6.6" fill="#6d3596"/>
<rect x="492.2" y="482.9" width="18.6" height="6.6" fill="#4aaaa6"/>
<text x="518.5" y="476.8" class="lg" textLength="58.8" lengthAdjust="spacingAndGlyphs">Stock Return</text>
<text x="518.5" y="490.2" class="lg" textLength="56.5" lengthAdjust="spacingAndGlyphs">Bond Return</text>
<!-- annotations -->
<text x="80.2" y="200.7" class="ann" textLength="469" lengthAdjust="spacingAndGlyphs">PRE-1998 BONDS DOWN 65 OUT OF 100 WORST EQUITY DAYS</text>
<text x="79.9" y="455.7" class="ann" textLength="490" lengthAdjust="spacingAndGlyphs">POST-1998 BONDS DOWN ONLY 17 OUT OF 100 WORST EQUITY DAYS</text>
<text x="117.9" y="304.3" class="ann" textLength="83.4" lengthAdjust="spacingAndGlyphs">BONDS UP</text>
<text x="296.9" y="307.3" class="ann" textLength="116.5" lengthAdjust="spacingAndGlyphs">STOCKS DOWN</text>
<line x1="118.4" y1="300.6" x2="88" y2="305.6" stroke="#1c1a1e" stroke-width="1.9"/>
<path d="M80.6 307.1 L90.9 301.6 L88.6 305.2 L92 308.9 Z" fill="#1c1a1e" stroke="#1c1a1e" stroke-width="0.8" stroke-linejoin="round"/>
<line x1="295.7" y1="307.2" x2="107" y2="390.4" stroke="#1c1a1e" stroke-width="1.9"/>
<path d="M100.5 393.3 L108.6 385.4 L107.4 389.6 L112 391.9 Z" fill="#1c1a1e" stroke="#1c1a1e" stroke-width="0.8" stroke-linejoin="round"/>
<!-- logo -->
<g fill="none" stroke="#404040">
<circle cx="269.65" cy="517.1" r="10.2" stroke-width="1.25"/>
<line x1="268.3" y1="509" x2="268.3" y2="525.8" stroke-width="1.3"/>
<line x1="270.95" y1="509" x2="270.95" y2="525.8" stroke-width="1.2"/>
<line x1="263.1" y1="517.7" x2="274.3" y2="517.7" stroke-width="1.1"/>
<path d="M262.1 512.4 Q264.6 509.6 268.3 509.1" stroke-width="1.3"/>
<path d="M270.95 509.1 Q274.6 509.6 276.9 512.4" stroke-width="1.3"/>
<path d="M262.1 522 Q264.6 525 268.3 525.6" stroke-width="1.3"/>
</g>
<text x="285.6" y="514.9" class="logo1" textLength="59.4" lengthAdjust="spacingAndGlyphs">3FOURTEEN</text>
<text x="285.8" y="522.9" class="logo2" textLength="58.8" lengthAdjust="spacing">RESEARCH</text>
<text x="285.6" y="527.6" class="logo3" textLength="58.5" lengthAdjust="spacingAndGlyphs">REDUCE RISK. EXPLOIT OPPORTUNITY</text>
</svg>
</body></html>
